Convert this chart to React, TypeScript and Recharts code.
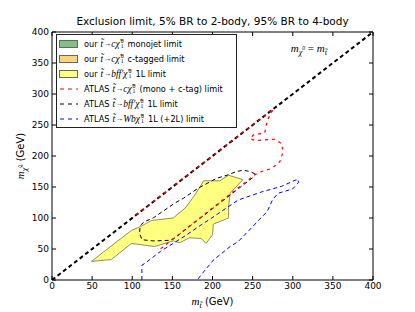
import React from 'react';
import { ComposedChart, Scatter, XAxis, YAxis, Legend, ReferenceDot } from 'recharts';

const CHART_W = 415;
const CHART_H = 312;
const SANS = '"DejaVu Sans", sans-serif';
const SERIF = '"Liberation Serif", "DejaVu Serif", serif';

const axisTicks = [0, 50, 100, 150, 200, 250, 300, 350, 400];

const titleText = 'Exclusion limit, 5% BR to 2-body, 95% BR to 4-body';

// m_chi = m_stop diagonal
const diagonalLine = [
  { x: 0, y: 0 },
  { x: 400, y: 400 },
];

// our t -> b f f' chi 1L limit (closed region)
const yellowRegion = [
  { x: 49, y: 30 }, { x: 99, y: 80 }, { x: 110, y: 86 }, { x: 124, y: 96 },
  { x: 151, y: 100 }, { x: 166, y: 116 }, { x: 178, y: 137 }, { x: 189, y: 160 },
  { x: 209, y: 160 }, { x: 220, y: 169 }, { x: 238, y: 162 }, { x: 222, y: 140 },
  { x: 220, y: 118 }, { x: 220, y: 100 }, { x: 201, y: 90 }, { x: 200, y: 73 },
  { x: 192, y: 59 }, { x: 186, y: 67 }, { x: 171, y: 68 }, { x: 159, y: 60 },
  { x: 151, y: 63 }, { x: 128, y: 54 }, { x: 99, y: 59 }, { x: 74, y: 33 },
];

// ATLAS t -> c chi (mono + c-tag) limit
const atlasCharmLimit = [
  { x: 100, y: 100 }, { x: 276, y: 276 }, { x: 270, y: 262 }, { x: 267, y: 250 },
  { x: 265, y: 237 }, { x: 251, y: 234 }, { x: 247, y: 228 }, { x: 253, y: 225 },
  { x: 278, y: 227 }, { x: 286, y: 220 }, { x: 288, y: 207 }, { x: 284, y: 191 },
  { x: 274, y: 180 }, { x: 261, y: 175 }, { x: 253, y: 170 }, { x: 133, y: 48 },
];

// ATLAS t -> b f f' chi 1L limit
const atlasBffLimit = [
  { x: 253, y: 171 }, { x: 247, y: 175 }, { x: 238, y: 177 }, { x: 230, y: 175 },
  { x: 218, y: 169 }, { x: 205, y: 164 }, { x: 182, y: 148 }, { x: 164, y: 132 },
  { x: 153, y: 124 }, { x: 126, y: 100 }, { x: 115, y: 94 }, { x: 110, y: 88 },
  { x: 109, y: 76 }, { x: 112, y: 65 }, { x: 126, y: 63 }, { x: 147, y: 64 },
  { x: 152, y: 67 }, { x: 253, y: 168 },
];

// ATLAS t -> W b chi 1L (+2L) limit
const atlasWbLimit = [
  { x: 112, y: 0 }, { x: 112, y: 24 }, { x: 116, y: 27 }, { x: 135, y: 46 },
  { x: 151, y: 59 }, { x: 168, y: 73 }, { x: 186, y: 89 }, { x: 199, y: 100 },
  { x: 232, y: 129 }, { x: 261, y: 142 }, { x: 286, y: 151 }, { x: 303, y: 161 },
  { x: 307, y: 162 }, { x: 307, y: 157 }, { x: 300, y: 147 }, { x: 282, y: 140 },
  { x: 275, y: 130 }, { x: 268, y: 110 }, { x: 258, y: 97 }, { x: 250, y: 86 },
  { x: 232, y: 62 }, { x: 222, y: 54 }, { x: 201, y: 32 }, { x: 187, y: 10 },
  { x: 181, y: 0 },
];

const legendPrefixes = ['our', 'our', 'our', 'ATLAS', 'ATLAS', 'ATLAS'];
const legendFinalStates = ['c', 'c', 'bff\u2032', 'c', 'bff\u2032', 'Wb'];
const legendTails = ['monojet limit', 'c-tagged limit', '1L limit', '(mono + c-tag) limit', '1L limit', '1L (+2L) limit'];
const legendKinds = ['patch', 'patch', 'patch', 'line', 'line', 'line'];
const legendColors = ['#80c080', '#ffd280', '#ffff80', '#ff0000', '#000000', '#0000ff'];

const noDot = () => <g />;

const ChiSymbol = () => (
  <span style={{ fontFamily: SERIF, fontStyle: 'italic' }}>
    {'\u03c7\u0303'}
    <span
      style={{
        display: 'inline-flex',
        flexDirection: 'column',
        fontSize: '0.62em',
        lineHeight: '0.85',
        verticalAlign: 'middle',
        fontStyle: 'normal',
        marginLeft: 1,
      }}
    >
      <span>0</span>
      <span>1</span>
    </span>
  </span>
);

const LegendBox = () => (
  <div
    style={{
      boxSizing: 'border-box',
      width: 181,
      height: 94,
      border: '1px solid #222',
      background: '#fff',
      paddingTop: 1,
      fontFamily: SANS,
      fontSize: 8.2,
      color: '#000',
    }}
  >
    {legendPrefixes.map((pre, i) => (
      <div key={i} style={{ height: 15, display: 'flex', alignItems: 'center', whiteSpace: 'nowrap' }}>
        <svg width={27} height={15} style={{ flex: 'none' }}>
          {legendKinds[i] === 'patch' ? (
            <rect x={2.5} y={4.5} width={18} height={7} fill={legendColors[i]} stroke="#666" strokeWidth={1} />
          ) : (
            <line x1={3} y1={8} x2={21} y2={8} stroke={legendColors[i]} strokeWidth={1} strokeDasharray="4 4" />
          )}
        </svg>
        <span style={{ marginRight: 3 }}>{pre}</span>
        <span style={{ fontFamily: SERIF, fontStyle: 'italic', fontSize: 9.5 }}>{'t\u0303'}</span>
        <span style={{ fontFamily: SERIF, fontSize: 8 }}>{'\u2192'}</span>
        <span style={{ fontFamily: SERIF, fontStyle: 'italic', fontSize: 9.5 }}>{legendFinalStates[i]}</span>
        <span style={{ fontSize: 9.5 }}>
          <ChiSymbol />
        </span>
        <span style={{ marginLeft: 4 }}>{legendTails[i]}</span>
      </div>
    ))}
  </div>
);

const TitleLabel = (props: any) => {
  const vb = props.viewBox || {};
  return (
    <text x={vb.x + vb.width / 2} y={vb.y - 6} textAnchor="middle" fontFamily={SANS} fontSize={10.5} fill="#000">
      {titleText}
    </text>
  );
};

const XLabel = (props: any) => {
  const vb = props.viewBox || {};
  return (
    <text x={vb.x + vb.width / 2} y={vb.y + 25} textAnchor="middle" fontFamily={SANS} fontSize={10} fill="#000">
      <tspan fontFamily={SERIF} fontStyle="italic" fontSize={11}>m</tspan>
      <tspan fontFamily={SERIF} fontStyle="italic" fontSize={8} dy={3}>{'t\u0303'}</tspan>
      <tspan dy={-3}> (GeV)</tspan>
    </text>
  );
};

const YLabel = (props: any) => {
  const vb = props.viewBox || {};
  const cx = 24;
  const cy = vb.y + vb.height / 2;
  return (
    <text
      x={cx}
      y={cy}
      textAnchor="middle"
      transform={`rotate(-90 ${cx} ${cy})`}
      fontFamily={SANS}
      fontSize={10}
      fill="#000"
    >
      <tspan fontFamily={SERIF} fontStyle="italic" fontSize={11}>m</tspan>
      <tspan fontFamily={SERIF} fontStyle="italic" fontSize={8} dy={3}>{'\u03c7\u0303'}</tspan>
      <tspan fontSize={5} dy={-5}>0</tspan>
      <tspan dy={2}> (GeV)</tspan>
    </text>
  );
};

const EqualityNote = (props: any) => {
  const vb = props.viewBox || {};
  const x = vb.x + (vb.width || 0) / 2;
  const y = vb.y + (vb.height || 0) / 2;
  return (
    <text x={x} y={y} textAnchor="middle" fontFamily={SERIF} fontStyle="italic" fontSize={11} fill="#000">
      <tspan>m</tspan>
      <tspan fontSize={8} dy={3}>{'\u03c7'}</tspan>
      <tspan fontSize={5.5} dy={-5}>0</tspan>
      <tspan fontSize={11} dy={2} fontStyle="normal">{' = '}</tspan>
      <tspan>m</tspan>
      <tspan fontSize={8} dy={3}>{'t\u0303'}</tspan>
    </text>
  );
};

const tickStyle = { fontSize: 9, fill: '#000', fontFamily: SANS };

export default function App() {
  return (
    <div style={{ position: 'absolute', left: 0, top: 0, width: CHART_W, height: CHART_H, background: '#fff' }}>
      <ComposedChart width={CHART_W} height={CHART_H} margin={{ top: 31, right: 41, bottom: 0, left: 12 }}>
        <XAxis
          xAxisId="b"
          dataKey="x"
          type="number"
          orientation="bottom"
          domain={[0, 400]}
          ticks={axisTicks}
          allowDataOverflow
          height={32}
          stroke="#000"
          tickSize={-4}
          tickMargin={7}
          tick={tickStyle}
          label={{ content: XLabel }}
        />
        <XAxis
          xAxisId="t"
          dataKey="x"
          type="number"
          orientation="top"
          domain={[0, 400]}
          ticks={axisTicks}
          allowDataOverflow
          height={1}
          stroke="#000"
          tickSize={-4}
          tick={noDot}
          label={{ content: TitleLabel }}
        />
        <YAxis
          yAxisId="l"
          dataKey="y"
          type="number"
          orientation="left"
          domain={[0, 400]}
          ticks={axisTicks}
          allowDataOverflow
          width={40}
          stroke="#000"
          tickSize={-4}
          tickMargin={7}
          tick={tickStyle}
          label={{ content: YLabel }}
        />
        <YAxis
          yAxisId="r"
          dataKey="y"
          type="number"
          orientation="right"
          domain={[0, 400]}
          ticks={axisTicks}
          allowDataOverflow
          width={1}
          stroke="#000"
          tickSize={-4}
          tick={noDot}
        />
        <Legend
          layout="vertical"
          align="center"
          verticalAlign="middle"
          content={LegendBox}
          wrapperStyle={{ left: 56, top: 34, width: 181, height: 94 }}
        />
        <Scatter
          name="yellow"
          xAxisId="b"
          yAxisId="l"
          data={yellowRegion}
          shape={noDot}
          line={{ fill: '#ffff80', stroke: '#8f8f60', strokeWidth: 1 }}
          lineType="joint"
          lineJointType="linearClosed"
          isAnimationActive={false}
        />
        <Scatter
          name="diag"
          xAxisId="b"
          yAxisId="l"
          data={diagonalLine}
          shape={noDot}
          line={{ stroke: '#000', strokeWidth: 2, strokeDasharray: '4 3' }}
          lineType="joint"
          lineJointType="linear"
          isAnimationActive={false}
        />
        <Scatter
          name="bff"
          xAxisId="b"
          yAxisId="l"
          data={atlasBffLimit}
          shape={noDot}
          line={{ stroke: '#000', strokeWidth: 1, strokeDasharray: '4 3' }}
          lineType="joint"
          lineJointType="linear"
          isAnimationActive={false}
        />
        <Scatter
          name="charm"
          xAxisId="b"
          yAxisId="l"
          data={atlasCharmLimit}
          shape={noDot}
          line={{ stroke: '#ff0000', strokeWidth: 1.2, strokeDasharray: '3 4', strokeDashoffset: 2 }}
          lineType="joint"
          lineJointType="linear"
          isAnimationActive={false}
        />
        <Scatter
          name="wb"
          xAxisId="b"
          yAxisId="l"
          data={atlasWbLimit}
          shape={noDot}
          line={{ stroke: '#0000ff', strokeWidth: 1, strokeDasharray: '4 3' }}
          lineType="joint"
          lineJointType="linear"
          isAnimationActive={false}
        />
        <ReferenceDot
          xAxisId="b"
          yAxisId="l"
          x={320}
          y={368}
          r={0}
          fill="none"
          stroke="none"
          label={{ content: EqualityNote }}
        />
      </ComposedChart>
    </div>
  );
}
